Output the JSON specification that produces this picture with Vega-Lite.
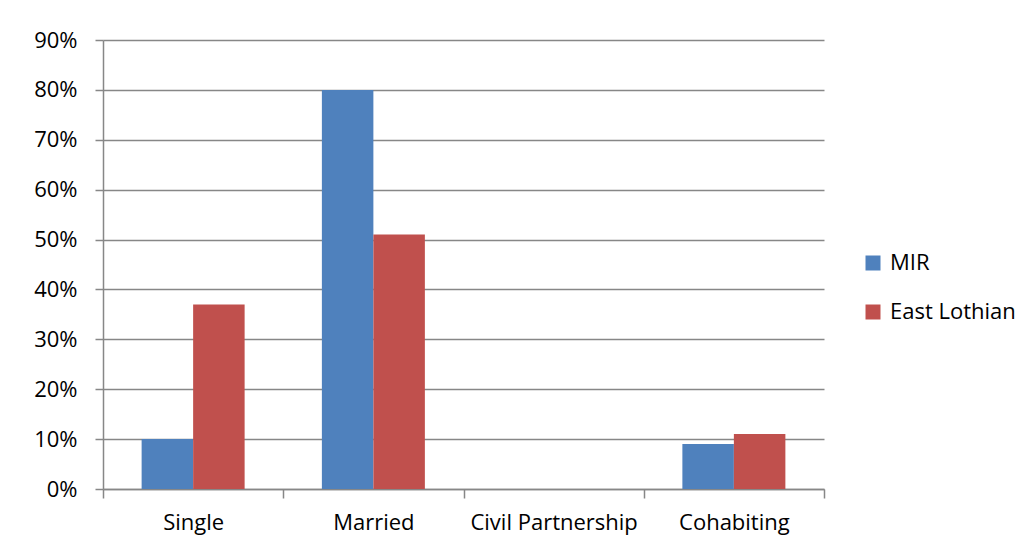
{
  "$schema": "https://vega.github.io/schema/vega-lite/v6.json",
  "width": 721,
  "height": 449,
  "autosize": {"type": "none"},
  "padding": {"left": 103, "top": 40, "right": 205, "bottom": 61},
  "background": "#ffffff",
  "data": {
    "values": [
      {"status": "Single", "area": "MIR", "share": 0.10},
      {"status": "Single", "area": "East Lothian", "share": 0.37},
      {"status": "Married", "area": "MIR", "share": 0.80},
      {"status": "Married", "area": "East Lothian", "share": 0.51},
      {"status": "Civil Partnership", "area": "MIR", "share": 0.0},
      {"status": "Civil Partnership", "area": "East Lothian", "share": 0.0},
      {"status": "Cohabiting", "area": "MIR", "share": 0.09},
      {"status": "Cohabiting", "area": "East Lothian", "share": 0.11}
    ]
  },
  "mark": {"type": "bar"},
  "encoding": {
    "x": {
      "field": "status",
      "type": "nominal",
      "sort": ["Single", "Married", "Civil Partnership", "Cohabiting"],
      "scale": {"paddingInner": 0, "paddingOuter": 0},
      "axis": {
        "title": null,
        "labelAngle": 0,
        "tickBand": "extent",
        "tickSize": 9,
        "labelPadding": 14,
        "grid": false
      }
    },
    "xOffset": {
      "field": "area",
      "type": "nominal",
      "sort": ["MIR", "East Lothian"],
      "scale": {"paddingInner": 0, "paddingOuter": 0.75}
    },
    "y": {
      "field": "share",
      "type": "quantitative",
      "scale": {"domain": [0, 0.9], "nice": false, "zero": true},
      "axis": {
        "title": null,
        "format": ".0%",
        "values": [0, 0.1, 0.2, 0.3, 0.4, 0.5, 0.6, 0.7, 0.8, 0.9],
        "labelOverlap": false,
        "labelBound": false,
        "tickSize": 8,
        "labelPadding": 18,
        "grid": true
      }
    },
    "color": {
      "field": "area",
      "type": "nominal",
      "sort": ["MIR", "East Lothian"],
      "scale": {"domain": ["MIR", "East Lothian"], "range": ["#4F81BD", "#C0504D"]},
      "legend": {
        "title": null,
        "orient": "none",
        "legendX": 759,
        "legendY": 212,
        "symbolType": "square",
        "symbolSize": 225,
        "symbolStrokeWidth": 0,
        "labelFontSize": 22,
        "labelFont": "Open Sans",
        "labelColor": "#000000",
        "labelOffset": 6,
        "rowPadding": 27
      }
    }
  },
  "config": {
    "view": {"stroke": null},
    "axis": {
      "labelFont": "Open Sans",
      "labelFontSize": 22,
      "labelColor": "#000000",
      "domainColor": "#878787",
      "domainWidth": 1.5,
      "tickColor": "#878787",
      "tickWidth": 1.5,
      "gridColor": "#878787",
      "gridWidth": 1.5,
      "gridOpacity": 1
    }
  }
}
